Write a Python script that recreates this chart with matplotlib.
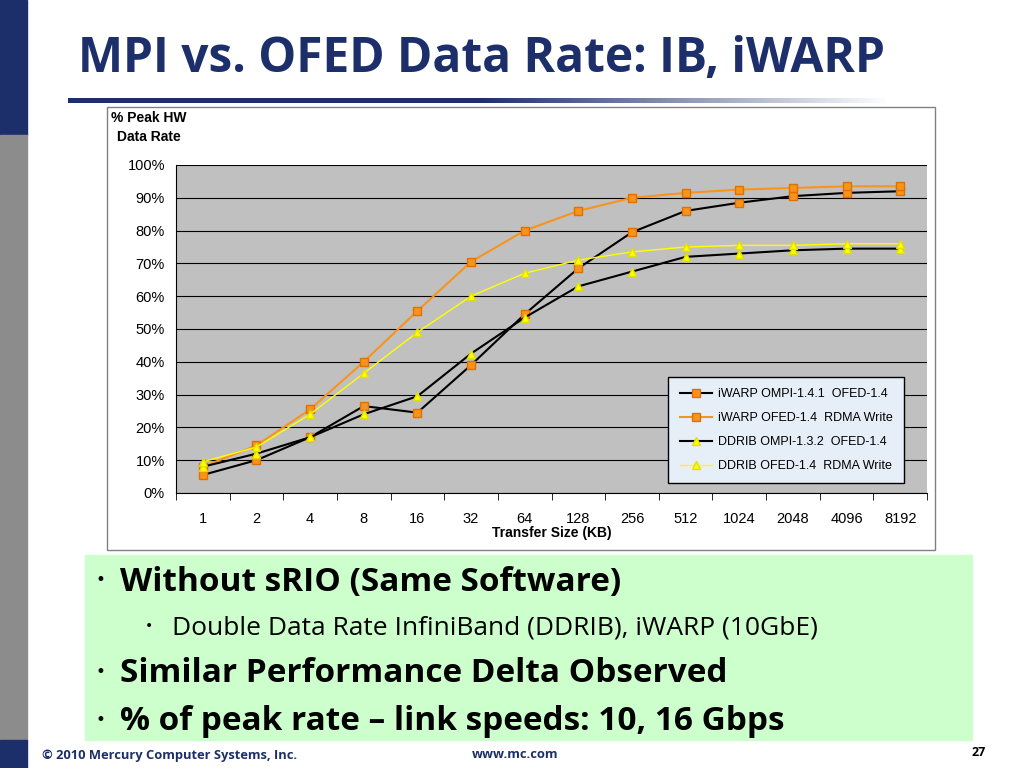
import numpy as np
import matplotlib.pyplot as plt
from matplotlib.patches import Rectangle
from matplotlib.colors import LinearSegmentedColormap

# Datos
sizes = ["1", "2", "4", "8", "16", "32", "64", "128", "256", "512", "1024", "2048", "4096", "8192"]
iwarp_ompi = [5.5, 10, 17, 26.5, 24.5, 39, 54.5, 68.5, 79.5, 86, 88.5, 90.5, 91.5, 92]
iwarp_ofed = [8, 14.5, 25.5, 40, 55.5, 70.5, 80, 86, 90, 91.5, 92.5, 93, 93.5, 93.5]
ddrib_ompi = [8, 12, 17, 24, 29.5, 42.5, 53.5, 63, 67.5, 72, 73, 74, 74.5, 74.5]
ddrib_ofed = [9.5, 14, 24, 36.5, 49, 60, 67, 71, 73.5, 75, 75.5, 75.5, 76, 76]

W, H = 1024, 768
fig = plt.figure(figsize=(W / 100, H / 100), dpi=100)
bg = fig.add_axes([0, 0, 1, 1])
bg.set_xlim(0, W)
bg.set_ylim(H, 0)
bg.axis('off')

# Marco de la diapositiva
bg.add_patch(Rectangle((0, 0), 27, 135, color='#1c2f6b'))
bg.add_patch(Rectangle((0, 135), 27, 605, color='#8c8c8c'))
bg.add_patch(Rectangle((0, 740), 27, 28, color='#1c2f6b'))
grad = np.linspace(0, 1, 256).reshape(1, -1)
cmap = LinearSegmentedColormap.from_list('g', ['#1c2f6b', '#1c2f6b', '#ffffff'])
bg.imshow(grad, cmap=cmap, extent=(68, 890, 103, 98), aspect='auto')
bg.text(78, 60, "MPI vs. OFED Data Rate: IB, iWARP", fontsize=34.5, fontweight='bold',
        color='#1c2f6b', va='center', family='Open Sans')

# Caja del grafico
bg.add_patch(Rectangle((107, 107), 828, 443, fill=False, ec='#808080', lw=1))
bg.text(111, 118, "% Peak HW", fontsize=10, fontweight='bold', va='center', family='Liberation Sans')
bg.text(117, 137, "Data Rate", fontsize=10, fontweight='bold', va='center', family='Liberation Sans')

# Caja verde de texto
bg.add_patch(Rectangle((85, 555), 887, 185, color='#ccffcc'))
bg.text(95, 580, "•", fontsize=12, va='center')
bg.text(120, 582, "Without sRIO (Same Software)", fontsize=24, fontweight='bold', va='center', family='Open Sans')
bg.text(145, 626, "•", fontsize=10, va='center')
bg.text(172, 628, "Double Data Rate InfiniBand (DDRIB), iWARP (10GbE)", fontsize=19, va='center', family='Open Sans')
bg.text(95, 672, "•", fontsize=12, va='center')
bg.text(120, 674, "Similar Performance Delta Observed", fontsize=24, fontweight='bold', va='center', family='Open Sans')
bg.text(95, 720, "•", fontsize=12, va='center')
bg.text(120, 722, "% of peak rate – link speeds: 10, 16 Gbps", fontsize=24, fontweight='bold', va='center', family='Open Sans')

# Pie de pagina
bg.text(42, 755, "© 2010 Mercury Computer Systems, Inc.", fontsize=9.3, fontweight='bold', color='#1c2f6b', va='center', family='Open Sans')
bg.text(472, 755, "www.mc.com", fontsize=9.3, fontweight='bold', color='#1c2f6b', va='center', family='Open Sans')
bg.text(972, 752, "27", fontsize=9, fontweight='bold', va='center', family='Open Sans')

# Grafico de lineas
ax = fig.add_axes([176 / W, 1 - 493 / H, 751 / W, 328 / H])
ax.set_facecolor('#c0c0c0')
x = np.arange(len(sizes))
ax.plot(x, iwarp_ompi, color='black', lw=1.5, marker='s', ms=6, mfc='#f7941d', mec='#e07000',
        label='iWARP OMPI-1.4.1  OFED-1.4')
ax.plot(x, iwarp_ofed, color='#f7941d', lw=1.5, marker='s', ms=6, mfc='#f7941d', mec='#e07000',
        label='iWARP OFED-1.4  RDMA Write')
ax.plot(x, ddrib_ompi, color='black', lw=1.5, marker='^', ms=6, mfc='#ffff00', mec='#e0e000',
        label='DDRIB OMPI-1.3.2  OFED-1.4')
ax.plot(x, ddrib_ofed, color='#ffff00', lw=1, marker='^', ms=6, mfc='#ffff00', mec='#e0e000',
        label='DDRIB OFED-1.4  RDMA Write')
ax.set_xlim(-0.5, len(sizes) - 0.5)
ax.set_ylim(0, 100)
ax.set_yticks(range(0, 101, 10))
ax.set_yticklabels([f"{v}%" for v in range(0, 101, 10)], family='Liberation Sans', fontsize=10.5)
ax.set_xticks(x)
ax.set_xticklabels(sizes, family='Liberation Sans', fontsize=10.5)
ax.tick_params(axis='x', length=0, pad=14)
ax.tick_params(axis='y', length=0, pad=8)
ax.set_xticks(np.arange(-0.5, len(sizes), 1), minor=True)
ax.tick_params(axis='x', which='minor', length=5, direction='out')
ax.grid(axis='y', color='black', lw=0.8)
for s in ['top', 'right']:
    ax.spines[s].set_visible(False)
ax.set_xlabel("Transfer Size (KB)", fontsize=10, fontweight='bold', family='Liberation Sans', labelpad=0)
leg = ax.legend(loc='lower right', bbox_to_anchor=(0.97, 0.03), prop={'family': 'Liberation Sans', 'size': 9},
                fancybox=False, edgecolor='black', facecolor='#e6eef8', framealpha=1,
                labelspacing=0.95, handlelength=2.6, handletextpad=0.5, borderpad=0.9, borderaxespad=0)

plt.savefig('out.png', dpi=100)
